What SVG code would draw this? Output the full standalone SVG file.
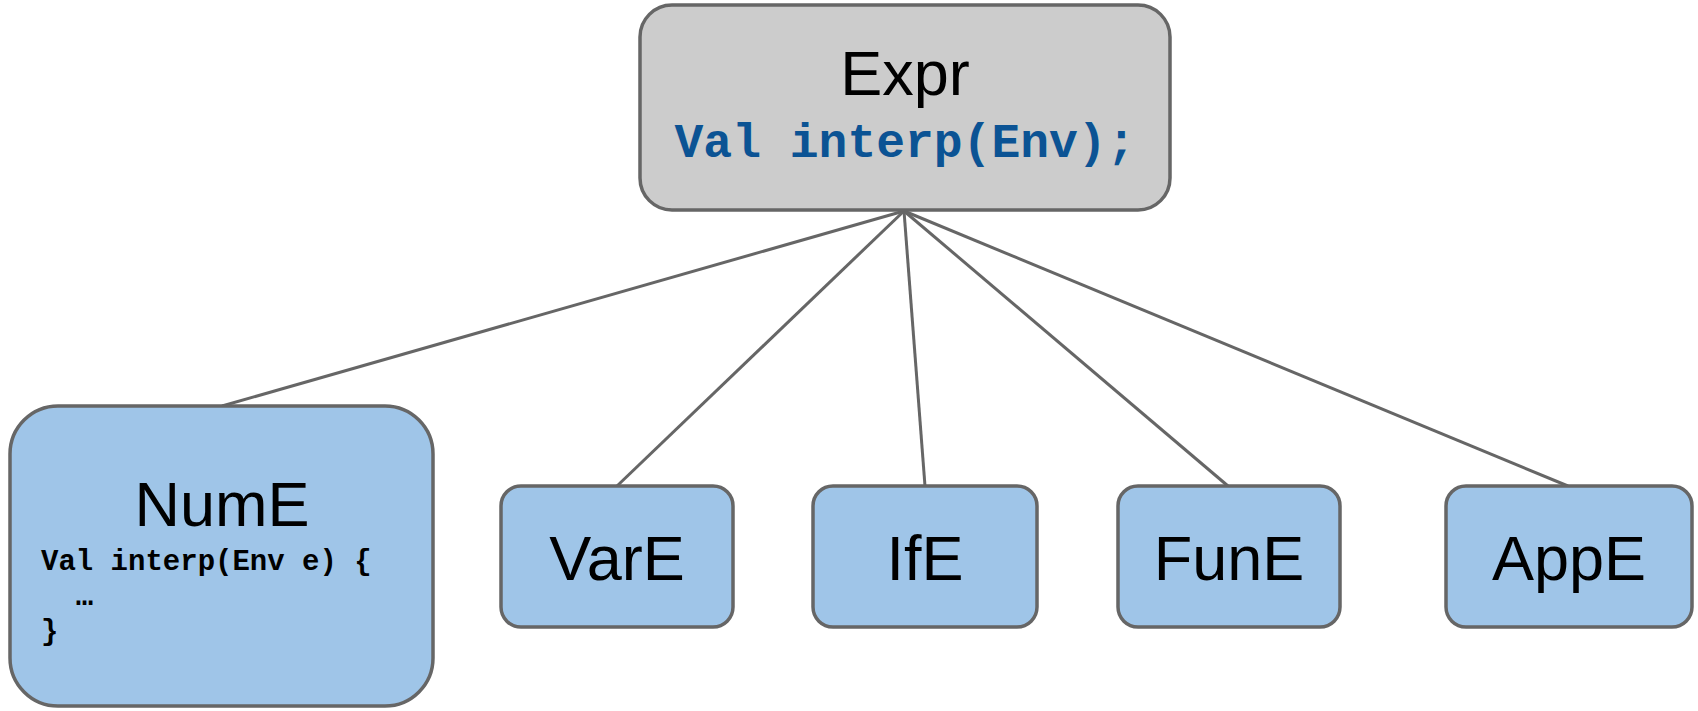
<svg xmlns="http://www.w3.org/2000/svg" width="1698" height="711" viewBox="0 0 1698 711">
<style>
.box{stroke:#666666;stroke-width:3.5}
.gray{fill:#cccccc}
.blue{fill:#9fc5e8}
.title{font-family:"Liberation Sans",Arial,sans-serif;font-size:63px;fill:#000;text-anchor:middle}
.code{font-family:"Liberation Mono","Courier New",monospace;font-weight:bold}
.conn{stroke:#666666;stroke-width:3;fill:none}
</style>
<rect width="1698" height="711" fill="#ffffff"/>
<g id="connectors">
<line class="conn" x1="904" y1="211" x2="222" y2="406"/>
<line class="conn" x1="904" y1="211" x2="617" y2="486"/>
<line class="conn" x1="904" y1="211" x2="925" y2="486"/>
<line class="conn" x1="904" y1="211" x2="1228" y2="486"/>
<line class="conn" x1="904" y1="211" x2="1568" y2="486"/>
</g>
<g id="expr">
<rect class="box gray" x="640" y="5" width="530" height="205" rx="32"/>
<text class="title" x="905" y="95">Expr</text>
<text class="code" x="905" y="157" font-size="48" fill="#0b5394" text-anchor="middle">Val interp(Env);</text>
</g>
<g id="nume">
<rect class="box blue" x="10" y="406" width="423" height="300" rx="48"/>
<text class="title" x="222" y="526">NumE</text>
<text class="code" font-size="29" fill="#000">
<tspan x="41" y="570">Val interp(Env e) {</tspan>
<tspan x="41" y="605" xml:space="preserve">  …</tspan>
<tspan x="41" y="640">}</tspan>
</text>
</g>
<g id="vare">
<rect class="box blue" x="501" y="486" width="232" height="141" rx="20"/>
<text class="title" x="617" y="580">VarE</text>
</g>
<g id="ife">
<rect class="box blue" x="813" y="486" width="224" height="141" rx="20"/>
<text class="title" x="925" y="580">IfE</text>
</g>
<g id="fune">
<rect class="box blue" x="1118" y="486" width="222" height="141" rx="20"/>
<text class="title" x="1229" y="580">FunE</text>
</g>
<g id="appe">
<rect class="box blue" x="1446" y="486" width="246" height="141" rx="20"/>
<text class="title" x="1569" y="580">AppE</text>
</g>
</svg>
